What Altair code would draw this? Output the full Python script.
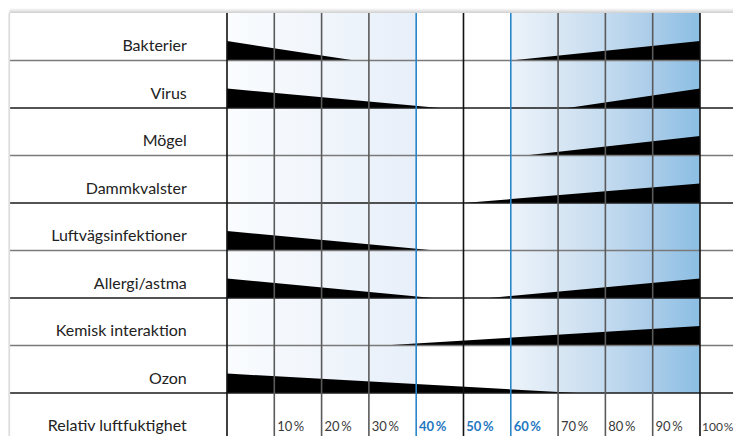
import altair as alt
import pandas as pd

# ---- data ----
categories = ["Bakterier", "Virus", "Mögel", "Dammkvalster",
              "Luftvägsinfektioner", "Allergi/astma", "Kemisk interaktion", "Ozon"]
# left wedge: full height at 0 %, tapering to zero at left_end (%)
left_end = [27, 45, None, None, 44, 43.5, None, 74]
# right wedge: zero at right_start (%), full height at 100 %
right_start = [60, 72, 63, 50, None, 55.5, 33, None]
wedge_height = [0.41]  # in row units
tick_values = [10, 20, 30, 40, 50, 60, 70, 80, 90, 100]
tick_labels = ["10\u2009%", "20\u2009%", "30\u2009%", "40\u2009%", "50\u2009%",
               "60\u2009%", "70\u2009%", "80\u2009%", "90\u2009%", "100\u200a%"]
optimal = [40, 50, 60]
axis_title = "Relativ luftfuktighet"

W, H = 725, 428
xdom = [-46.3, 106.98]
ydom = [-0.1053, 8.905]
xs = alt.Scale(domain=xdom, nice=False, zero=False)
ys = alt.Scale(domain=ydom, nice=False, zero=False, reverse=True)
FONT = "Lato"

# wedges
h = wedge_height[0]
rows = []
for i, c in enumerate(categories):
    b = i + 1
    if left_end[i] is not None:
        rows.append(dict(w=f"L{i}", x=0, y=b, y2=b - h))
        rows.append(dict(w=f"L{i}", x=left_end[i], y=b, y2=b))
    if right_start[i] is not None:
        rows.append(dict(w=f"R{i}", x=right_start[i], y=b, y2=b))
        rows.append(dict(w=f"R{i}", x=100, y=b, y2=b - h))
wedges = pd.DataFrame(rows)

wedge_chart = alt.Chart(wedges).mark_area(color="black", interpolate="linear").encode(
    x=alt.X("x:Q", scale=xs, axis=None),
    y=alt.Y("y:Q", scale=ys, axis=None),
    y2="y2:Q",
    detail="w:N",
)

# gradient backgrounds
left_bg = alt.Chart(pd.DataFrame([dict(x=0, x2=40, y=0, y2=8)])).mark_rect(
    fill=alt.LinearGradient(gradient="linear", x1=0, x2=1, y1=0, y2=0,
                            stops=[alt.GradientStop(color="#fafcfe", offset=0),
                                   alt.GradientStop(color="#e7eff9", offset=1)])
).encode(x=alt.X("x:Q", scale=xs, axis=None), x2="x2:Q",
         y=alt.Y("y:Q", scale=ys, axis=None), y2="y2:Q")

right_bg = alt.Chart(pd.DataFrame([dict(x=60, x2=100, y=0, y2=8)])).mark_rect(
    fill=alt.LinearGradient(gradient="linear", x1=0, x2=1, y1=0, y2=0,
                            stops=[alt.GradientStop(color="#ecf3fa", offset=0),
                                   alt.GradientStop(color="#d9e7f4", offset=0.25),
                                   alt.GradientStop(color="#c4dbef", offset=0.5),
                                   alt.GradientStop(color="#aacce9", offset=0.75),
                                   alt.GradientStop(color="#8bbee3", offset=1)])
).encode(x=alt.X("x:Q", scale=xs, axis=None), x2="x2:Q",
         y=alt.Y("y:Q", scale=ys, axis=None), y2="y2:Q")

# top / left shadow
shadow = alt.Chart(pd.DataFrame([dict(x=xdom[0] + 0.3, x2=xdom[1], y=ydom[0], y2=0)])).mark_rect(
    fill=alt.LinearGradient(gradient="linear", x1=0, x2=0, y1=0, y2=1,
                            stops=[alt.GradientStop(color="#ffffff", offset=0),
                                   alt.GradientStop(color="#cfcfcf", offset=1)])
).encode(x=alt.X("x:Q", scale=xs, axis=None), x2="x2:Q",
         y=alt.Y("y:Q", scale=ys, axis=None), y2="y2:Q")
lshadow = alt.Chart(pd.DataFrame([dict(x=xdom[0], x2=xdom[0] + 0.45, y=0, y2=ydom[1])])).mark_rect(
    fill=alt.LinearGradient(gradient="linear", x1=0, x2=1, y1=0, y2=0,
                            stops=[alt.GradientStop(color="#f0f0f0", offset=0),
                                   alt.GradientStop(color="#d4d4d4", offset=1)])
).encode(x=alt.X("x:Q", scale=xs, axis=None), x2="x2:Q",
         y=alt.Y("y:Q", scale=ys, axis=None), y2="y2:Q")

# horizontal lines
hl = pd.DataFrame([dict(y=i + 1, x=xdom[0] + 0.45, x2=xdom[1],
                        c="#7a7a7a" if i % 2 == 0 else "#1a1a1a") for i in range(len(categories))])
hlines = alt.Chart(hl).mark_rule(strokeWidth=1.6).encode(
    y=alt.Y("y:Q", scale=ys, axis=None),
    x=alt.X("x:Q", scale=xs, axis=None), x2="x2:Q",
    color=alt.Color("c:N", scale=None),
)

# vertical lines
vcols = []
for v in [0] + tick_values:
    if v in (40, 60):
        col = "#2a86c9"
    elif v in (0, 50, 100):
        col = "#111111"
    else:
        col = "#5a5a5a"
    vcols.append(dict(x=v, y=0, y2=ydom[1], c=col))
vlines = alt.Chart(pd.DataFrame(vcols)).mark_rule(strokeWidth=1.6).encode(
    x=alt.X("x:Q", scale=xs, axis=None),
    y=alt.Y("y:Q", scale=ys, axis=None), y2="y2:Q",
    color=alt.Color("c:N", scale=None),
)

# category labels
lab = pd.DataFrame([dict(t=c, x=-8.5, y=i + 0.81) for i, c in enumerate(categories)]
                   + [dict(t=axis_title, x=-8.5, y=8.80)])
labels = alt.Chart(lab).mark_text(align="right", baseline="alphabetic", font=FONT,
                                  fontSize=16, color="#222222").encode(
    x=alt.X("x:Q", scale=xs, axis=None),
    y=alt.Y("y:Q", scale=ys, axis=None),
    text="t:N",
)

# tick labels
tk = pd.DataFrame([dict(t=l, x=v + (0.45 if v == 100 else 0.6), y=8.80,
                        c="#1f77c0" if v in optimal else "#3a3a3a",
                        b="bold" if v in optimal else "normal",
                        s=12 if v == 100 else 13)
                   for v, l in zip(tick_values, tick_labels)])
tnorm = alt.Chart(tk[tk.b == "normal"]).mark_text(align="left", baseline="alphabetic",
                                                  font=FONT).encode(
    x=alt.X("x:Q", scale=xs, axis=None),
    y=alt.Y("y:Q", scale=ys, axis=None),
    text="t:N",
    color=alt.Color("c:N", scale=None),
    size=alt.Size("s:Q", scale=None, legend=None),
)
tbold = alt.Chart(tk[tk.b == "bold"]).mark_text(align="left", baseline="alphabetic", font=FONT,
                                                fontSize=13, fontWeight="bold").encode(
    x=alt.X("x:Q", scale=xs, axis=None),
    y=alt.Y("y:Q", scale=ys, axis=None),
    text="t:N",
    color=alt.Color("c:N", scale=None),
)

chart = alt.layer(shadow, lshadow, left_bg, right_bg, wedge_chart, hlines, vlines,
                  labels, tnorm, tbold).properties(
    width=W, height=H, padding=0, autosize=alt.AutoSizeParams(type="none"),
    background="white",
).configure_view(stroke=None)

chart.save("out.html", embed_options={"renderer": "svg", "actions": False})
